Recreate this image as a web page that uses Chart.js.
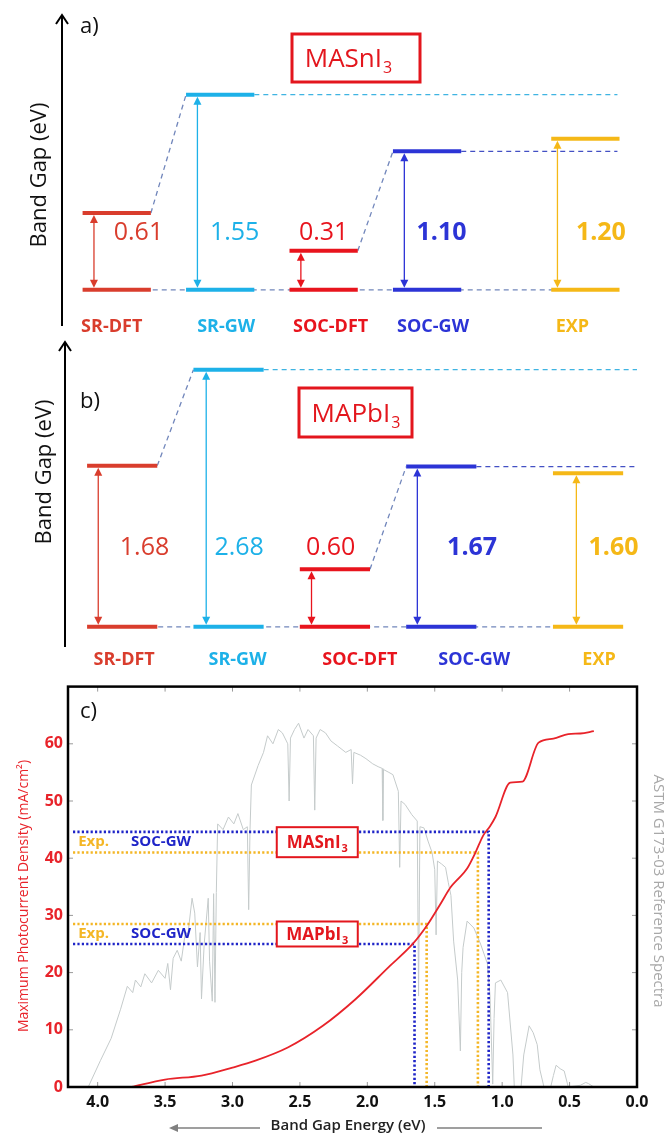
<!DOCTYPE html>
<html>
<head>
<meta charset="utf-8">
<script src="https://cdn.jsdelivr.net/npm/chart.js@4.4.1/dist/chart.umd.min.js"></script>
<style>
  body { margin: 0; background: #fff; }
  #wrap { position: relative; width: 667px; height: 1134px; }
  canvas { position: absolute; left: 0; }
</style>
</head>
<body>
<div id="wrap">
  <canvas id="panelA" width="667" height="340" style="top:0"></canvas>
  <canvas id="panelB" width="667" height="340" style="top:330px"></canvas>
  <canvas id="panelC" width="667" height="462" style="top:672px"></canvas>
</div>
<script>
// ---- data ----
const categories = ['SR-DFT', 'SR-GW', 'SOC-DFT', 'SOC-GW', 'EXP'];
const gapsSn = [0.61, 1.55, 0.31, 1.10, 1.20];
const gapsPb = [1.68, 2.68, 0.60, 1.67, 1.60];

// max photocurrent (mA/cm2) vs band gap (eV)
const photoEnergy = [3.75, 3.5, 3.23, 3.0, 2.83, 2.59, 2.33, 2.09, 1.84, 1.66, 1.55, 1.46, 1.38,
  1.33, 1.26, 1.20, 1.14, 1.09, 1.05, 0.94, 0.85, 0.73, 0.62, 0.51, 0.42, 0.32];
const photoCurrent = [0, 1.3, 2.0, 3.4, 4.6, 6.9, 10.7, 15.3, 21.0, 25.1, 28.5, 31.9, 35.0,
  36.3, 38.2, 40.9, 44.0, 45.6, 47.2, 53.2, 53.4, 60.2, 60.9, 61.7, 61.8, 62.2];

// ASTM G173-03 spectrum, in the units of the left axis
const spectrumEnergy = [4.07, 3.98, 3.90, 3.83, 3.78, 3.74, 3.72, 3.68, 3.65, 3.60, 3.55, 3.50, 3.48,
  3.46, 3.44, 3.41, 3.38, 3.35, 3.33, 3.30, 3.28, 3.26, 3.24, 3.23, 3.21, 3.18, 3.17, 3.15, 3.14, 3.13,
  3.12, 3.11, 3.07, 3.03, 2.99, 2.96, 2.92, 2.89, 2.88, 2.87, 2.86, 2.81, 2.77, 2.74, 2.70, 2.66, 2.63,
  2.59, 2.58, 2.57, 2.54, 2.51, 2.47, 2.44, 2.40, 2.39, 2.38, 2.35, 2.31, 2.27, 2.22, 2.16, 2.12, 2.11,
  2.10, 2.05, 2.01, 1.96, 1.92, 1.89, 1.885, 1.88, 1.84, 1.81, 1.77, 1.76, 1.75, 1.72, 1.67, 1.63, 1.62,
  1.61, 1.58, 1.55, 1.52, 1.50, 1.49, 1.48, 1.45, 1.42, 1.40, 1.38, 1.36, 1.33, 1.31, 1.30, 1.29, 1.26,
  1.21, 1.16, 1.11, 1.09, 1.07, 1.06, 1.05, 1.01, 0.96, 0.92, 0.91, 0.86, 0.84, 0.80, 0.77, 0.74, 0.72,
  0.69, 0.64, 0.62, 0.60, 0.57, 0.54, 0.51, 0.42, 0.38, 0.36, 0.32];
const spectrumValue = [0, 4.6, 8.5, 13.6, 17.6, 16.5, 18.7, 17.5, 19.8, 18.2, 20.4, 19.0, 21.6,
  17.0, 22.5, 23.9, 22, 27, 26.8, 33, 30.4, 21, 27, 15.4, 25, 33, 22, 15, 33.8, 14.8,
  34, 46, 45, 47.2, 46, 47.8, 45, 45.5, 31, 45, 52.8, 56.2, 58.5, 61.4, 60, 62.5, 61.9,
  60, 50, 61, 62.5, 63.6, 61, 62.5, 61.4, 48.4, 61, 62.5, 61.9, 60.5, 59.6, 58.5, 59, 53,
  58.5, 58, 57.4, 56.5, 56, 55.7, 46.6, 55.5, 55, 54.6, 51.7, 38.4, 50, 49.4, 47.6, 46.5, 15.9,
  45.5, 45.3, 43, 41, 38, 26.6, 39.5, 39, 38.4, 35.8, 33.5, 25.5, 18.7, 6.3, 20, 24.4, 29,
  27.8, 25, 21.6, 15.9, 0.5, 12, 18.2, 18.7, 16.5, 5.6, 0, 0, 5.6, 10.7, 9.5, 7.4, 3,
  0, 0, 2, 3.8, 3.2, 2.8, 0, 0.3, 0.8, 0.6, 0];

// dotted guide lines in c): [SOC-GW, Exp.] as drawn
const snLineE = [1.10, 1.18];
const snLineJ = [44.6, 41.0];
const pbLineE = [1.65, 1.56];
const pbLineJ = [25.0, 28.5];

// ---- styles ----
const FONT = '"Open Sans", "Noto Sans", sans-serif';
const colors = ['#d93d2d', '#1db1e8', '#e8141d', '#2c34d6', '#f5b817'];
const boldValue = [false, false, false, true, true];
const boxRed = '#e3161d';

function vArrow(ctx, x, yTop, yBot, color) {
  const h = 8, w = 4;
  ctx.save();
  ctx.strokeStyle = color;
  ctx.fillStyle = color;
  ctx.lineWidth = 1.3;
  ctx.beginPath();
  ctx.moveTo(x, yTop + h - 1);
  ctx.lineTo(x, yBot - h + 1);
  ctx.stroke();
  ctx.beginPath();
  ctx.moveTo(x, yTop); ctx.lineTo(x - w, yTop + h); ctx.lineTo(x + w, yTop + h);
  ctx.closePath(); ctx.fill();
  ctx.beginPath();
  ctx.moveTo(x, yBot); ctx.lineTo(x - w, yBot - h); ctx.lineTo(x + w, yBot - h);
  ctx.closePath(); ctx.fill();
  ctx.restore();
}

function drawFormula(ctx, cx, cy, main, sub, size, weight, color) {
  ctx.save();
  ctx.fillStyle = color;
  ctx.textAlign = 'left';
  ctx.textBaseline = 'alphabetic';
  const subSize = Math.round(size * 0.62);
  ctx.font = `${weight} ${size}px ${FONT}`;
  const w1 = ctx.measureText(main).width;
  ctx.font = `${weight} ${subSize}px ${FONT}`;
  const w2 = ctx.measureText(sub).width;
  const x0 = cx - (w1 + w2) / 2;
  const base = cy + size * 0.36;
  ctx.font = `${weight} ${size}px ${FONT}`;
  ctx.fillText(main, x0, base);
  ctx.font = `${weight} ${subSize}px ${FONT}`;
  ctx.fillText(sub, x0 + w1 + 1, base + size * 0.22);
  ctx.restore();
}

// ---- panels a) and b) ----
function levelPanel(canvasId, gaps, cfg) {
  const pos = cfg.pos;
  const hw = 0.33;
  const dashed = (data, color) => ({
    data, borderColor: color, borderWidth: 1.3, borderDash: [5, 4], order: 5
  });
  const datasets = [
    dashed([{ x: pos[0], y: 0 }, { x: pos[4], y: 0 }], '#7186bb'),
    dashed([{ x: pos[0] + hw, y: gaps[0] }, { x: pos[1] - hw, y: gaps[1] }], '#7186bb'),
    dashed([{ x: pos[2] + hw, y: gaps[2] }, { x: pos[3] - hw, y: gaps[3] }], '#7186bb'),
    dashed([{ x: pos[1] + hw, y: gaps[1] }, { x: cfg.end, y: gaps[1] }], '#3fb4e2'),
    dashed([{ x: pos[3] + hw, y: gaps[3] }, { x: cfg.end, y: gaps[3] }], '#4350c4')
  ];
  categories.forEach((c, i) => {
    [gaps[i], 0].forEach(v => {
      datasets.push({
        label: c,
        data: [{ x: pos[i] - hw, y: v }, { x: pos[i] + hw, y: v }],
        borderColor: colors[i], borderWidth: 4, order: 1
      });
    });
  });

  const decor = {
    id: 'decor',
    afterDatasetsDraw(chart) {
      const ctx = chart.ctx, xs = chart.scales.x, ys = chart.scales.y;
      const y0 = ys.getPixelForValue(0);
      ctx.save();
      categories.forEach((c, i) => {
        const ax = xs.getPixelForValue(pos[i] + cfg.arrowDx[i]);
        vArrow(ctx, ax, ys.getPixelForValue(gaps[i]) + 2, y0 - 2, colors[i]);
        ctx.fillStyle = colors[i];
        ctx.textAlign = 'center';
        ctx.textBaseline = 'middle';
        ctx.font = `${boldValue[i] ? 'bold ' : ''}25px ${FONT}`;
        ctx.fillText(gaps[i].toFixed(2), xs.getPixelForValue(pos[i] + cfg.valueDx[i]), cfg.valueY);
        ctx.font = `bold 18px ${FONT}`;
        ctx.fillText(c, xs.getPixelForValue(pos[i]) + cfg.catDx[i], cfg.catY);
      });
      // vertical axis arrow
      ctx.strokeStyle = '#000';
      ctx.lineWidth = 2;
      ctx.beginPath();
      ctx.moveTo(cfg.axisX, cfg.axisTop);
      ctx.lineTo(cfg.axisX, cfg.axisBottom);
      ctx.moveTo(cfg.axisX - 6, cfg.axisTop + 9);
      ctx.lineTo(cfg.axisX, cfg.axisTop);
      ctx.lineTo(cfg.axisX + 6, cfg.axisTop + 9);
      ctx.stroke();
      // panel letter
      ctx.fillStyle = '#111';
      ctx.textAlign = 'left';
      ctx.font = `22px ${FONT}`;
      ctx.fillText(cfg.letter, 80, cfg.letterY);
      // axis title
      ctx.save();
      ctx.translate(cfg.titleX, cfg.titleY);
      ctx.rotate(-Math.PI / 2);
      ctx.textAlign = 'center';
      ctx.font = `22px ${FONT}`;
      ctx.fillText('Band Gap (eV)', 0, 0);
      ctx.restore();
      // compound box
      const b = cfg.box;
      ctx.strokeStyle = boxRed;
      ctx.lineWidth = 3;
      ctx.strokeRect(b.x, b.y, b.w, b.h);
      drawFormula(ctx, b.x + b.w / 2 + b.dx, b.y + b.h / 2, b.main, '3', 26, 'normal', boxRed);
      ctx.restore();
    }
  };

  new Chart(document.getElementById(canvasId), {
    type: 'line',
    data: { datasets },
    options: {
      responsive: false,
      animation: false,
      layout: { padding: cfg.padding },
      elements: { point: { radius: 0 }, line: { tension: 0 } },
      plugins: { legend: { display: false }, tooltip: { enabled: false } },
      scales: {
        x: { type: 'linear', min: -0.5, max: 5.0, display: false },
        y: { type: 'linear', min: -0.2, max: cfg.yMax, display: false }
      }
    },
    plugins: [decor]
  });
}

levelPanel('panelA', gapsSn, {
  pos: [0, 1, 2, 3, 4.53], end: 4.84, yMax: 2.0,
  padding: { left: 65, right: 33, top: 38, bottom: 25 },
  arrowDx: [-0.22, -0.22, -0.22, -0.22, -0.27],
  valueDx: [0.21, 0.14, 0.0, 0.14, 0.15], valueY: 233,
  catDx: [-5, 6, 7, 6, -13], catY: 327,
  axisX: 62, axisTop: 15, axisBottom: 326,
  letter: 'a)', letterY: 27, titleX: 40, titleY: 175,
  box: { x: 292, y: 34, w: 128, h: 48, dx: -8, main: 'MASnI' }
});

levelPanel('panelB', gapsPb, {
  pos: [0, 1, 2, 3, 4.38], end: 4.84, yMax: 3.0,
  padding: { left: 69, right: 13, top: 9, bottom: 24 },
  arrowDx: [-0.225, -0.21, -0.22, -0.225, -0.11],
  valueDx: [0.21, 0.10, -0.04, 0.29, 0.24], valueY: 218,
  catDx: [2, 9, 25, 33, 11], catY: 330,
  axisX: 65, axisTop: 12, axisBottom: 317,
  letter: 'b)', letterY: 72, titleX: 45, titleY: 142,
  box: { x: 299, y: 58, w: 113, h: 49, dx: 0, main: 'MAPbI' }
});

// ---- panel c) ----
const photoPoints = photoEnergy.map((e, i) => ({ x: e, y: photoCurrent[i] }));
const spectrumPoints = spectrumEnergy.map((e, i) => ({ x: e, y: spectrumValue[i] }));

const guideBlue = '#1f25c8';
const guideYellow = '#f4b625';

function guides(chart, lineE, lineJ, boxMain, boxH) {
  const ctx = chart.ctx, xs = chart.scales.x, ys = chart.scales.y, area = chart.chartArea;
  const cols = [guideBlue, guideYellow];
  ctx.save();
  ctx.lineWidth = 2.6;
  ctx.setLineDash([2.2, 2.2]);
  lineE.forEach((e, i) => {
    const px = xs.getPixelForValue(e), py = ys.getPixelForValue(lineJ[i]);
    ctx.strokeStyle = cols[i];
    ctx.beginPath();
    ctx.moveTo(area.left + 5, py);
    ctx.lineTo(px, py);
    ctx.lineTo(px, area.bottom);
    ctx.stroke();
  });
  ctx.setLineDash([]);
  const midY = ys.getPixelForValue((lineJ[0] + lineJ[1]) / 2);
  ctx.font = `bold 15px ${FONT}`;
  ctx.textAlign = 'center';
  ctx.textBaseline = 'middle';
  ctx.fillStyle = guideYellow;
  ctx.fillText('Exp.', xs.getPixelForValue(4.03), midY);
  ctx.fillStyle = guideBlue;
  ctx.fillText('SOC-GW', xs.getPixelForValue(3.53), midY);
  // compound box
  const cx = xs.getPixelForValue(2.375);
  ctx.fillStyle = '#fff';
  ctx.fillRect(cx - 40, midY - boxH / 2, 81, boxH);
  ctx.strokeStyle = boxRed;
  ctx.lineWidth = 2;
  ctx.strokeRect(cx - 40, midY - boxH / 2, 81, boxH);
  drawFormula(ctx, cx, midY, boxMain, '3', 17, 'bold', boxRed);
  ctx.restore();
}

const decorC = {
  id: 'decorC',
  afterDatasetDraw(chart, args) {
    if (args.index !== 1) return;
    guides(chart, snLineE, snLineJ, 'MASnI', 30);
    guides(chart, pbLineE, pbLineJ, 'MAPbI', 25);
  },
  afterDraw(chart) {
    const ctx = chart.ctx, xs = chart.scales.x, ys = chart.scales.y, a = chart.chartArea;
    ctx.save();
    // inward ticks on all four sides
    ctx.strokeStyle = '#9a9a9a';
    ctx.lineWidth = 1;
    ctx.beginPath();
    ys.ticks.forEach(t => {
      if (t.value <= 0 || t.value >= 70) return;
      const p = ys.getPixelForValue(t.value);
      ctx.moveTo(a.left, p); ctx.lineTo(a.left + 5, p);
      ctx.moveTo(a.right, p); ctx.lineTo(a.right - 5, p);
    });
    xs.ticks.forEach(t => {
      if (t.value <= 0) return;
      const p = xs.getPixelForValue(t.value);
      ctx.moveTo(p, a.top); ctx.lineTo(p, a.top + 5);
      ctx.moveTo(p, a.bottom); ctx.lineTo(p, a.bottom - 5);
    });
    ctx.stroke();
    // frame
    ctx.strokeStyle = '#000';
    ctx.lineWidth = 2.5;
    ctx.strokeRect(a.left, a.top, a.right - a.left, a.bottom - a.top);
    // panel letter
    ctx.fillStyle = '#111';
    ctx.font = `22px ${FONT}`;
    ctx.textAlign = 'left';
    ctx.textBaseline = 'middle';
    ctx.fillText('c)', 80, 40);
    // left title
    ctx.save();
    ctx.translate(24, 224);
    ctx.rotate(-Math.PI / 2);
    ctx.textAlign = 'center';
    ctx.fillStyle = '#e8232a';
    ctx.font = `14px ${FONT}`;
    ctx.fillText('Maximum Photocurrent Density (mA/cm²)', 0, 0);
    ctx.restore();
    // right title
    ctx.save();
    ctx.translate(658, 219);
    ctx.rotate(Math.PI / 2);
    ctx.textAlign = 'center';
    ctx.fillStyle = '#a8a8a8';
    ctx.font = `15px ${FONT}`;
    ctx.fillText('ASTM G173-03 Reference Spectra', 0, 0);
    ctx.restore();
    // bottom title with arrows
    ctx.fillStyle = '#222';
    ctx.font = `600 15px ${FONT}`;
    ctx.textAlign = 'center';
    ctx.fillText('Band Gap Energy (eV)', 348, 454);
    ctx.strokeStyle = '#808080';
    ctx.fillStyle = '#808080';
    ctx.lineWidth = 1.5;
    ctx.beginPath();
    ctx.moveTo(176, 456); ctx.lineTo(260, 456);
    ctx.moveTo(437, 456); ctx.lineTo(542, 456);
    ctx.stroke();
    ctx.beginPath();
    ctx.moveTo(169, 456); ctx.lineTo(178, 452); ctx.lineTo(178, 460);
    ctx.closePath(); ctx.fill();
    ctx.restore();
  }
};

new Chart(document.getElementById('panelC'), {
  type: 'line',
  data: {
    datasets: [
      {
        label: 'Maximum photocurrent',
        data: photoPoints,
        borderColor: '#e8232a',
        borderWidth: 1.8,
        cubicInterpolationMode: 'monotone',
        order: 0
      },
      {
        label: 'ASTM G173-03',
        data: spectrumPoints,
        borderColor: '#c5cbcb',
        borderWidth: 1,
        tension: 0,
        order: 1
      }
    ]
  },
  options: {
    responsive: false,
    animation: false,
    layout: { padding: { left: 20, right: 30, top: 5, bottom: 0 } },
    elements: { point: { radius: 0 } },
    plugins: { legend: { display: false }, tooltip: { enabled: false } },
    scales: {
      x: {
        type: 'linear', reverse: true, min: 0, max: 4.22,
        afterFit: s => { s.height = 47; },
        grid: { display: false, drawTicks: false },
        border: { display: false },
        ticks: {
          stepSize: 0.5, includeBounds: false, padding: 6, maxRotation: 0,
          color: '#111', font: { family: 'Open Sans', size: 16, weight: 'bold' },
          callback: v => (Math.abs(v * 2 - Math.round(v * 2)) < 1e-6 ? v.toFixed(1) : '')
        }
      },
      y: {
        type: 'linear', min: 0, max: 70,
        afterFit: s => { s.width = 48; },
        grid: { display: false, drawTicks: false },
        border: { display: false },
        ticks: {
          stepSize: 10, padding: 5,
          color: '#e8232a', font: { family: 'Open Sans', size: 16, weight: 'bold' },
          callback: v => (v < 70 ? v : '')
        }
      }
    }
  },
  plugins: [decorC]
});
</script>
</body>
</html>
